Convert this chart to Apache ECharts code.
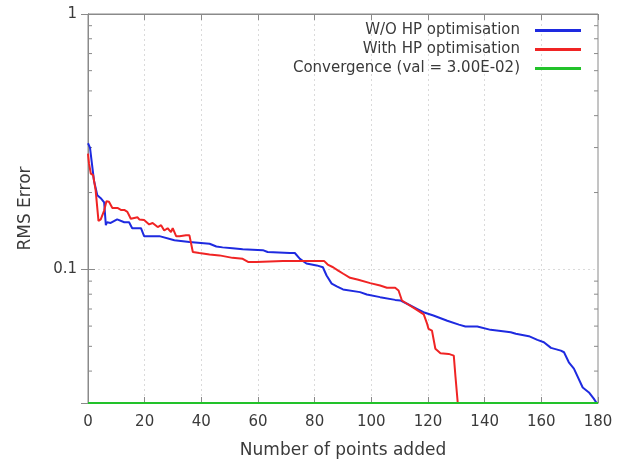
<!DOCTYPE html>
<html>
<head>
<meta charset="utf-8">
<script src="https://cdn.jsdelivr.net/npm/echarts@6/dist/echarts.min.js"></script>
<style>html,body{margin:0;padding:0;background:#fff;}#c{width:620px;height:466px;}</style>
</head>
<body>
<div id="c"></div>
<script>
// ---- data ----
const seriesNames = ['W/O HP optimisation', 'With HP optimisation', 'Convergence (val = 3.00E-02)'];
const woX = [0,0.7,2.1,3.3,4.5,5.7,6.3,6.7,8,10.3,12.8,14.5,15.6,18.7,19.8,25.2,30.5,35.8,42.9,45.3,47.5,51,54.6,61.7,63.4,71.2,73,74.8,77.1,80.7,82.9,84.2,86,87.8,90,96,98.4,103.1,108.4,110.2,112.6,116.1,118.4,121.9,126.8,130.9,133.2,133.8,137.4,142.1,145,149.2,151,155.6,158.6,160.9,163.4,166.9,168,169.7,171.5,174.6,176.8,178.5,179.5];
const woY = [0.312,0.300,0.223,0.195,0.190,0.183,0.149,0.153,0.152,0.157,0.153,0.153,0.145,0.145,0.135,0.135,0.130,0.128,0.126,0.123,0.122,0.121,0.120,0.119,0.117,0.116,0.116,0.110,0.1055,0.1037,0.102,0.0947,0.088,0.0858,0.0835,0.0815,0.0798,0.0779,0.076,0.0756,0.0734,0.0701,0.068,0.066,0.063,0.0608,0.0598,0.060,0.0598,0.058,0.0576,0.0568,0.056,0.0548,0.053,0.0519,0.0493,0.0481,0.0474,0.0433,0.0409,0.0345,0.033,0.0312,0.0300];
const hpX = [0,0.35,1,1.8,2.7,3.7,4.5,5.7,6.5,7.4,8.6,10.4,11.6,12.8,13.9,15.1,17.5,18.1,19.8,21.6,22.8,24.6,25.8,26.9,28.1,29.3,29.9,31.1,32.3,34.6,35.8,37,39.3,42.9,46.4,51,54.6,56.5,59.4,68.8,83.3,84.6,86.5,88.3,90.1,92.5,95.4,99.6,103.1,105.5,108.4,109.6,110.8,112.6,115.5,118.5,119.7,120.2,121.4,122.6,124.4,127.3,129.1,129.7,130.5];
const hpY = [0.284,0.26,0.237,0.234,0.204,0.155,0.157,0.170,0.185,0.184,0.174,0.174,0.171,0.171,0.168,0.158,0.160,0.157,0.156,0.150,0.152,0.1465,0.149,0.142,0.145,0.140,0.145,0.135,0.135,0.136,0.136,0.117,0.116,0.1145,0.1135,0.111,0.110,0.107,0.107,0.108,0.108,0.1045,0.102,0.099,0.0962,0.0927,0.0911,0.0884,0.0865,0.0848,0.0848,0.0827,0.0756,0.0734,0.0701,0.0667,0.0612,0.0585,0.0576,0.0489,0.047,0.0467,0.046,0.038,0.030];
const convX = [0, 180];
const convY = [0.03, 0.03];
const xTicks = [0, 180, 20];          // min, max, interval
const yRange = [0.03, 1];
const yMinorTicks = [0.04,0.05,0.06,0.07,0.08,0.09,0.2,0.3,0.4,0.5,0.6,0.7,0.8,0.9];
const yMajorLabels = [0.1, 1];

const zip = (xs, ys) => xs.map((x, i) => [x, ys[i]]);
const FONT = 'DejaVu Sans';
const TXT = '#3a3a3a';
const FRAME = '#8a8a8a';

const chart = echarts.init(document.getElementById('c'), null, {renderer: 'canvas'});
const isMajor = v => yMajorLabels.some(m => Math.abs(Math.log10(v) - Math.log10(m)) < 1e-6);

chart.setOption({
  animation: false,
  backgroundColor: '#fff',
  grid: {left: 88, right: 22, top: 14, bottom: 63, show: true, borderColor: FRAME, borderWidth: 1},
  legend: {
    data: seriesNames,
    orient: 'vertical', align: 'right',
    right: 34, top: 18,
    itemWidth: 46, itemHeight: 3, itemGap: 4,
    icon: 'rect',
    textStyle: {fontFamily: FONT, fontSize: 15, color: TXT, lineHeight: 15, padding: [0, 10, 0, 0]}
  },
  xAxis: [{
    type: 'value', min: xTicks[0], max: xTicks[1], interval: xTicks[2],
    name: 'Number of points added', nameLocation: 'middle', nameGap: 39,
    nameTextStyle: {fontFamily: FONT, fontSize: 17, color: TXT},
    axisLine: {show: true, lineStyle: {color: FRAME}},
    axisTick: {show: true, inside: true, length: 6, lineStyle: {color: FRAME}},
    axisLabel: {fontFamily: FONT, fontSize: 15, color: TXT, margin: 12},
    splitLine: {show: true, showMinLine: false, showMaxLine: false, lineStyle: {color: '#dadada', type: [2, 3]}}
  }, {
    type: 'value', position: 'top', min: xTicks[0], max: xTicks[1], interval: xTicks[2],
    axisLine: {show: true, lineStyle: {color: FRAME}},
    axisTick: {show: true, inside: true, length: 6, lineStyle: {color: FRAME}},
    axisLabel: {show: false}, splitLine: {show: false}
  }],
  yAxis: [{
    type: 'log', logBase: 10, min: yRange[0], max: yRange[1],
    name: 'RMS Error', nameLocation: 'middle', nameGap: 54,
    nameTextStyle: {fontFamily: FONT, fontSize: 17, color: TXT},
    axisLine: {show: true, lineStyle: {color: FRAME}},
    axisTick: {show: true, inside: true, length: 7, lineStyle: {color: FRAME}},
    axisLabel: {fontFamily: FONT, fontSize: 15, color: TXT, margin: 11,
      formatter: v => isMajor(v) ? String(Math.round(v * 10) / 10 === 1 ? 1 : 0.1) : ''},
    splitLine: {show: true, showMinLine: false, showMaxLine: false, lineStyle: {color: '#dadada', type: [2, 3]}}
  }, {
    type: 'log', logBase: 10, min: yRange[0], max: yRange[1], position: 'right',
    axisLine: {show: true, lineStyle: {color: FRAME}},
    axisTick: {show: true, inside: true, length: 7, lineStyle: {color: FRAME}},
    axisLabel: {show: false}, splitLine: {show: false}
  }],
  series: [
    {name: seriesNames[0], type: 'line', data: zip(woX, woY), showSymbol: false, symbol: 'none',
     lineStyle: {color: '#1e2ae0', width: 2}, itemStyle: {color: '#1e2ae0'}, z: 4},
    {name: seriesNames[1], type: 'line', data: zip(hpX, hpY), showSymbol: false, symbol: 'none',
     lineStyle: {color: '#f02424', width: 2}, itemStyle: {color: '#f02424'}, z: 5},
    {name: seriesNames[2], type: 'line', data: zip(convX, convY), showSymbol: false, symbol: 'none',
     lineStyle: {color: '#22c22a', width: 2}, itemStyle: {color: '#22c22a'}, z: 6},
    {name: 'minorTicks', type: 'custom', silent: true, z: 3,
     data: yMinorTicks.map(v => [xTicks[0], v]),
     encode: {x: 0, y: 1},
     renderItem: (params, api) => {
       const v = api.value(1);
       const l = api.coord([xTicks[0], v]);
       const r = api.coord([xTicks[1], v]);
       const st = {stroke: FRAME, lineWidth: 1};
       return {type: 'group', children: [
         {type: 'line', shape: {x1: l[0], y1: l[1], x2: l[0] + 4, y2: l[1]}, style: st},
         {type: 'line', shape: {x1: r[0] - 4, y1: r[1], x2: r[0], y2: r[1]}, style: st}
       ]};
     }}
  ]
});
</script>
</body>
</html>
